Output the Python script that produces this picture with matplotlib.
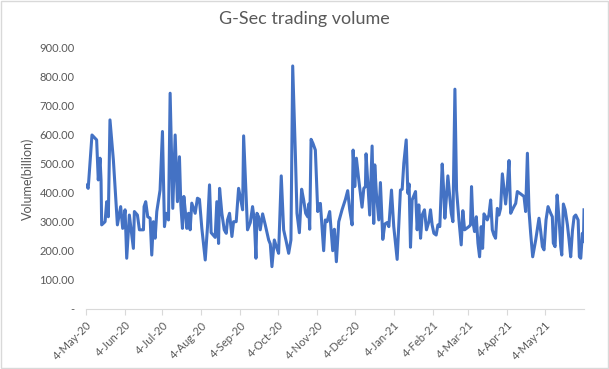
import numpy as np
import pandas as pd
import matplotlib
matplotlib.use("Agg")
import matplotlib.pyplot as plt
import matplotlib.dates as mdates
from matplotlib.ticker import FuncFormatter, MultipleLocator

# days since 4-May-2020 and traded volume (billion)
day_offset = [
    0, 2, 5, 8.7, 10, 11.4, 12.2, 12.7, 15.4, 16.7, 18, 19.3, 22, 25.2, 27.8, 29.4,
    31.3, 32.6, 34.7, 37.9, 38.7, 41.1, 42.7, 45.9, 46.4, 47.7, 49.3, 51.2, 52.5,
    53.8, 55.2, 56.5, 59.1, 61, 62.6, 63.9, 65.8, 67.1, 69.2, 71.1, 72.9, 74.5,
    75.6, 76.9, 78, 79.6, 80.4, 81.7, 83, 84.3, 87, 88.8, 90.4,
    92.3, 95.0, 96.8, 98.4, 99.7, 102.9, 104.2, 105.6, 106.4, 108.2, 110.1, 111.7,
    112.7, 114.3, 116.2, 117.5, 119.6, 121.5, 123.3, 124.7, 125.5, 126.8, 128.6,
    130.8, 132.6, 134.0, 135.3, 136.1, 137.4, 138.7, 140.6, 142.7, 145.4, 146.7,
    148.0, 149.9, 151.5, 153.3, 155.4, 157.3, 159.4, 161.3, 163.1, 164.5, 166.6,
    167.9, 169.8, 171.6, 173.2, 174.8, 176.4, 177.2, 178.0, 179.1, 180.6, 182.5,
    184.4, 185.4,
    186.5, 189.1, 190.4, 191.8, 193.9, 196.3, 197.6, 199.2, 201.1, 203.7, 206.4,
    208.2, 209.8, 211.7, 212.5, 213.8, 215.1, 217.0, 219.6, 221.0, 222.3, 222.8,
    224.4, 225.7, 227.6, 228.9, 229.7, 231.0, 232.9, 234.2, 236.1, 237.7, 239.5,
    240.9, 243.0, 244.8, 247.5, 250.1, 251.5, 252.8, 254.7, 256.0, 257.0, 258.1,
    259.4, 262.1, 263.4, 264.7, 266.1, 267.4, 269.2, 270.8, 272.7, 274.0, 275.3,
    276.7, 278.5, 279.9, 281.4,
    283.3, 284.6, 285.4, 286.7, 287.8, 289.1, 290.5, 291.8, 293.4, 294.7, 296.6,
    298.4, 299.7, 301.1, 302.7, 304.5, 305.8, 306.6, 307.7, 309.0, 310.4, 311.7,
    313.0, 314.3, 315.4, 316.5, 317.8, 319.1, 320.4, 321.8, 323.1, 324.4, 325.7,
    327.1, 328.4, 329.7, 331.1, 332.4, 333.7, 335.0, 336.4, 337.7, 339.0, 340.3,
    341.7, 343.0, 345.6, 348.3, 349.6, 351.0, 352.3, 353.6, 355.2, 357.6, 360.2,
    361.6, 362.9, 364.2, 365.8, 367.4, 369.5, 370.8, 371.6, 373.0, 374.6, 376.2,
    377.5, 378.3, 379.6, 381.0, 382.8, 384.1, 385.4, 386.8, 388.1, 389.4, 391.3,
    392.3, 393.4, 394.7, 395.5, 396.0,
]
volume = [
    428, 416, 600, 583, 445, 520, 445, 290, 301, 370, 318, 652, 514, 290, 353, 278,
    342, 175, 324, 209, 336, 324, 273, 273, 353, 370, 318, 313, 186,
    301, 244, 336, 410, 612, 284, 330, 307, 744, 347, 600, 370, 525,
    359, 278, 388, 318, 278, 330, 273, 365, 330, 382, 378,
    278, 169, 284, 428, 263, 247, 370, 226, 416, 330, 273, 261,
    307, 330, 250, 301, 301, 416, 376, 342, 597, 462, 273,
    298, 353, 307, 175, 330, 318, 273, 328, 290, 238, 224,
    146, 238, 215, 192, 459, 273, 232, 192, 238, 838, 537,
    330, 263, 413, 376, 330, 318, 362, 275, 585, 571, 548,
    336, 362,
    364, 201, 307, 301, 336, 201, 275, 163, 301, 342, 378,
    408, 342, 290, 548, 422, 520, 445, 351, 416, 422, 535,
    422, 324, 562, 295, 497, 399, 307, 436, 240, 293, 298,
    284, 410, 284, 171, 410, 413, 503, 583, 399, 431, 213,
    376, 405, 273, 359, 244, 324, 342, 273, 301, 342, 290,
    261, 255, 290, 284,
    500, 399, 313, 388, 459, 397, 330, 301, 758, 410, 307,
    221, 339, 273, 278, 284, 290, 422, 301, 267, 318, 227,
    180, 284, 209, 328, 318, 307, 324, 376, 273, 255, 244,
    347, 324, 347, 466, 413, 362, 422, 512, 330, 342, 353,
    364, 405, 397, 388, 336, 537, 336, 261, 180, 238, 313,
    267, 215, 204, 307, 353, 330, 318, 227, 215, 393, 307,
    215, 186, 362, 342, 290, 238, 180, 270, 318, 324, 307,
    180, 175, 261, 232, 342,
]

start_date = pd.Timestamp("2020-05-04")
dates = start_date + pd.to_timedelta(day_offset, unit="D")
# axis ticks on the 4th of every month
tick_dates = pd.date_range("2020-05-01", "2021-05-01", freq="MS") + pd.Timedelta(days=3)

plt.rcParams["font.family"] = ["Lato", "DejaVu Sans"]
grey = "#595959"
line_grey = "#D9D9D9"

fig = plt.figure(figsize=(6.09, 3.69), dpi=100)
ax = fig.add_axes([0.1407, 0.1626, 0.959 - 0.1407, 0.870 - 0.1626])

ax.plot(dates, volume, color="#4472C4", linewidth=2.2, solid_joinstyle="round")

ax.set_ylim(0, 900)
ax.set_xlim(dates[0], dates[-1])
ax.yaxis.set_major_locator(MultipleLocator(100))
ax.yaxis.set_major_formatter(FuncFormatter(lambda v, p: "-" if v == 0 else f"{v:.2f}"))
ax.set_xticks(tick_dates)
ax.xaxis.set_major_formatter(FuncFormatter(
    lambda v, p: f"{mdates.num2date(v).day}-{mdates.num2date(v).strftime('%b-%y')}"))

for s in ["top", "right", "left"]:
    ax.spines[s].set_visible(False)
ax.spines["bottom"].set_color(line_grey)
ax.tick_params(axis="y", length=0, labelsize=8, colors=grey, pad=8)
ax.tick_params(axis="x", length=4, color=line_grey, labelsize=8, labelcolor=grey)
plt.setp(ax.get_xticklabels(), rotation=45, ha="right", rotation_mode="anchor")

ax.set_ylabel("Volume(billion)", fontsize=9, color=grey, labelpad=4)
fig.text(0.5, 0.948, "G-Sec trading volume", fontsize=13, color=grey,
         ha="center", va="center")

fig.patches.append(plt.Rectangle((0.001, 0.002), 0.997, 0.995, transform=fig.transFigure,
                                 fill=False, edgecolor=line_grey, linewidth=1))

fig.savefig("out.png", dpi=100)
